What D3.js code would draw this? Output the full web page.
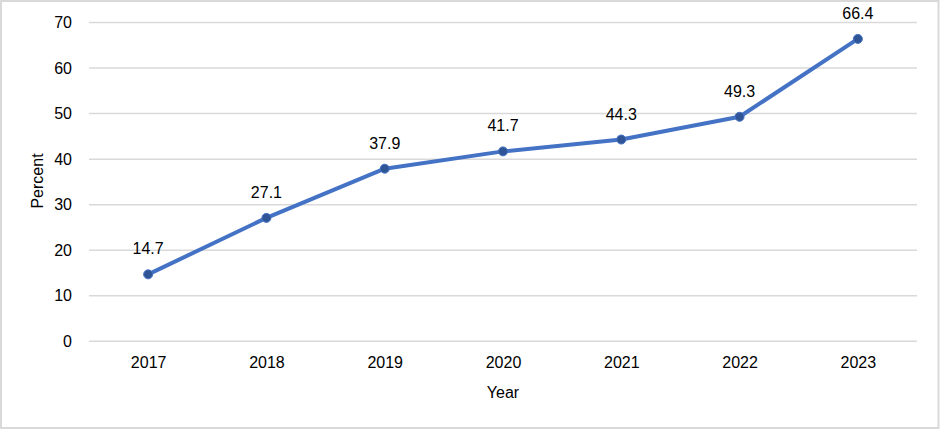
<!DOCTYPE html>
<html>
<head>
<meta charset="utf-8">
<script src="https://cdn.jsdelivr.net/npm/d3@7"></script>
<style>
  html, body { margin: 0; padding: 0; background: #fff; }
  svg { display: block; }
  text { font-family: "Liberation Sans", Arial, sans-serif; fill: #000; }
</style>
</head>
<body>
<svg id="chart" width="940" height="429"></svg>
<script>
const years = ["2017", "2018", "2019", "2020", "2021", "2022", "2023"];
const percentValues = [14.7, 27.1, 37.9, 41.7, 44.3, 49.3, 66.4];
const yTicks = [0, 10, 20, 30, 40, 50, 60, 70];
const xTitle = "Year";
const yTitle = "Percent";

const W = 940, H = 429;
const svg = d3.select("#chart");

// outer border
svg.append("rect")
  .attr("x", 1).attr("y", 1).attr("width", W - 2.5).attr("height", H - 2)
  .attr("fill", "#fff").attr("stroke", "#d9d9d9").attr("stroke-width", 2);

const plot = { left: 89, right: 917, top: 22.5, bottom: 341.3 };

const x = d3.scalePoint().domain(years).range([plot.left, plot.right]).padding(0.5);
const y = d3.scaleLinear().domain([0, 70]).range([plot.bottom, plot.top]);

// gridlines
svg.append("g").selectAll("line").data(yTicks).join("line")
  .attr("x1", plot.left).attr("x2", plot.right)
  .attr("y1", d => y(d)).attr("y2", d => y(d))
  .attr("stroke", "#d9d9d9").attr("stroke-width", 1.5);

// y axis labels
const yAxis = d3.axisLeft(y).tickValues(yTicks).tickSize(0).tickPadding(0).tickFormat(d3.format("d"));
const gy = svg.append("g").attr("transform", `translate(${72},0)`).call(yAxis);
gy.select(".domain").remove();
gy.selectAll("text").attr("font-size", 16).attr("font-family", "Liberation Sans, Arial, sans-serif").attr("fill", "#000");

// x axis labels
const xAxis = d3.axisBottom(x).tickSize(0).tickPadding(0);
const gx = svg.append("g").attr("transform", `translate(0,${plot.bottom + 15})`).call(xAxis);
gx.select(".domain").remove();
gx.selectAll("text").attr("font-size", 16).attr("font-family", "Liberation Sans, Arial, sans-serif").attr("fill", "#000");

// axis titles
svg.append("text")
  .attr("x", (plot.left + plot.right) / 2).attr("y", 397.5)
  .attr("text-anchor", "middle").attr("font-size", 16)
  .text(xTitle);

svg.append("text")
  .attr("transform", `translate(43,181) rotate(-90)`)
  .attr("text-anchor", "middle").attr("font-size", 16)
  .text(yTitle);

const pts = years.map((yr, i) => ({ yr, v: percentValues[i] }));

// line
svg.append("path")
  .datum(pts)
  .attr("fill", "none")
  .attr("stroke", "#4472c4")
  .attr("stroke-width", 4)
  .attr("stroke-linejoin", "round")
  .attr("d", d3.line().x(d => x(d.yr)).y(d => y(d.v)));

// markers
svg.append("g").selectAll("circle").data(pts).join("circle")
  .attr("cx", d => x(d.yr)).attr("cy", d => y(d.v)).attr("r", 4.5)
  .attr("fill", "#2f5597").attr("stroke", "#4472c4").attr("stroke-width", 1);

// data labels
svg.append("g").selectAll("text").data(pts).join("text")
  .attr("x", d => x(d.yr)).attr("y", d => y(d.v) - 20)
  .attr("text-anchor", "middle").attr("font-size", 16)
  .text(d => d.v.toFixed(1));
</script>
</body>
</html>
